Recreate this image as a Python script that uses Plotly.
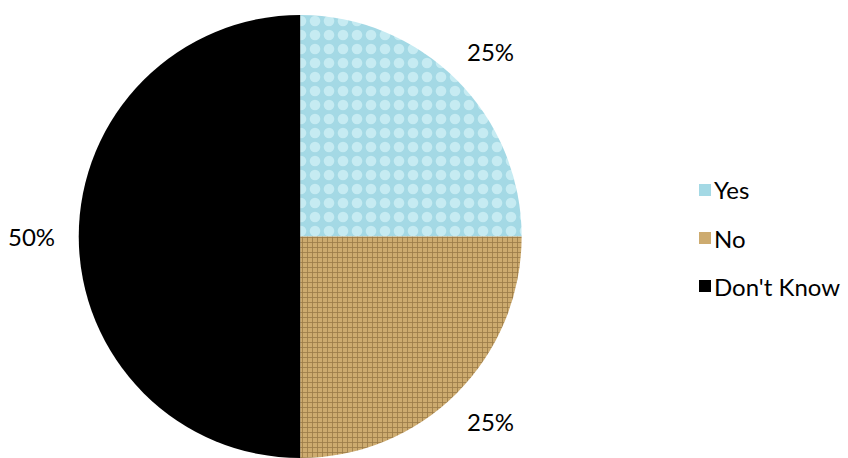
import math
import plotly.graph_objects as go

# Survey answers and their shares
labels = ["Yes", "No", "Don't Know"]
values = [25, 25, 50]

# Fill styles per answer: (background, foreground, pattern shape)
fill_bg = ["#a4d9e5", "#cdab6f", "#000000"]
fill_fg = ["#c6ebf2", "#9a7a48", "#000000"]
fill_shape = [".", "+", ""]

FONT = "Lato"
FONT_SIZE = 24
W, H = 848, 458

# Pie placement (paper fractions)
dom_x = [0.0, 0.708]
dom_y = [0.0, 0.967]

fig = go.Figure(
    go.Pie(
        labels=labels,
        values=values,
        sort=False,
        direction="clockwise",
        rotation=0,
        textinfo="none",
        marker=dict(
            colors=fill_bg,
            line=dict(width=0),
            pattern=dict(
                shape=fill_shape,
                bgcolor=fill_bg,
                fgcolor=fill_fg,
                size=[14, 5, 8],
                solidity=[0.45, 0.3, 0.3],
                fillmode="replace",
            ),
        ),
        domain=dict(x=dom_x, y=dom_y),
        showlegend=False,
        hoverinfo="label+percent",
    )
)

# Percentage labels outside each slice, at the slice's middle angle
cx_px = W * (dom_x[0] + dom_x[1]) / 2
cy_px = H * (dom_y[0] + dom_y[1]) / 2
radius_px = min(W * (dom_x[1] - dom_x[0]), H * (dom_y[1] - dom_y[0])) / 2
label_rx = radius_px * 1.215
label_ry = radius_px * 1.18
total = sum(values)
start = 0.0
for v in values:
    mid = (start + v / 2) / total * 2 * math.pi
    start += v
    lx = cx_px + label_rx * math.sin(mid)
    ly = cy_px + label_ry * math.cos(mid)
    fig.add_annotation(
        x=lx / W, y=ly / H, xref="paper", yref="paper",
        text=f"{round(100 * v / total)}%", showarrow=False,
        xanchor="center", yanchor="middle",
        font=dict(family=FONT, size=FONT_SIZE, color="#000000"),
    )

# Legend at the right: a small swatch and a label per answer
legend_x = 699 / W
legend_top = 1 - 190 / H
legend_step = 48 / H
for i, lab in enumerate(labels):
    yc = legend_top - i * legend_step
    fig.add_shape(
        type="rect", xref="paper", yref="paper",
        x0=legend_x, x1=legend_x + 12 / W,
        y0=yc - 6 / H, y1=yc + 6 / H,
        fillcolor=fill_bg[i], line=dict(width=0),
    )
    fig.add_annotation(
        x=legend_x + 13 / W, y=yc, xref="paper", yref="paper",
        text=lab, showarrow=False, xanchor="left", yanchor="middle",
        font=dict(family=FONT, size=FONT_SIZE, color="#000000"),
    )

fig.update_layout(
    width=W,
    height=H,
    margin=dict(l=0, r=0, t=0, b=0, autoexpand=False),
    paper_bgcolor="#ffffff",
    plot_bgcolor="#ffffff",
    font=dict(family=FONT),
)

fig.write_html("out.html")
